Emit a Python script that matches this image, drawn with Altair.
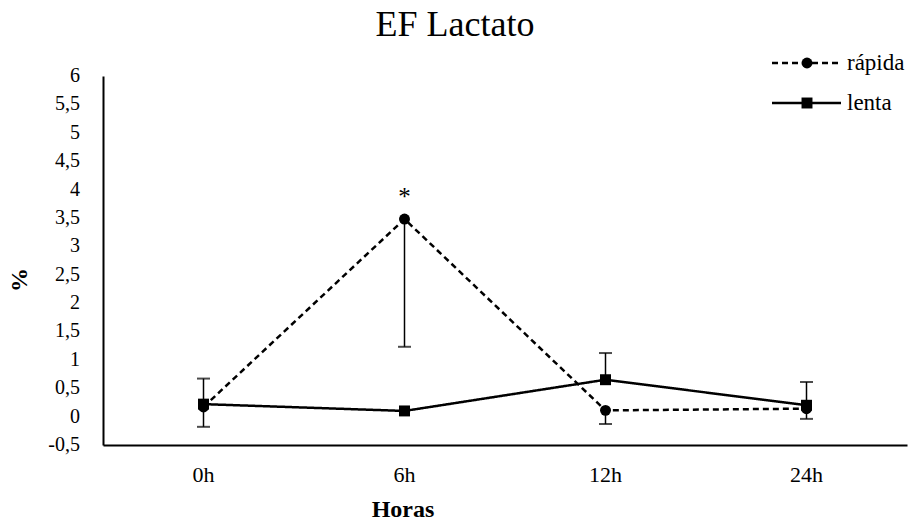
import altair as alt
import pandas as pd

# Sampling times and series
horas = ["0h", "6h", "12h", "24h"]
series = ["rápida", "lenta"]

# Mean values (%) per series
rapida_valor = [0.17, 3.48, 0.11, 0.14]
lenta_valor = [0.22, 0.10, 0.65, 0.20]

# Error bar lengths: rápida drawn downward, lenta drawn upward
rapida_err = [0.35, 2.25, 0.24, 0.18]
lenta_err = [0.45, 0.0, 0.47, 0.41]

# Significance marker per time point for rápida
rapida_sig = ["", "*", "", ""]

# Y tick positions and their labels (decimal comma)
y_ticks = [-0.5, 0, 0.5, 1, 1.5, 2, 2.5, 3, 3.5, 4, 4.5, 5, 5.5, 6]
y_tick_labels = ["-0,5", "0", "0,5", "1", "1,5", "2", "2,5", "3", "3,5", "4", "4,5", "5", "5,5", "6"]

FONT = "Liberation Serif"

rows = []
for h, v, e, s in zip(horas, rapida_valor, rapida_err, rapida_sig):
    rows.append(dict(hora=h, serie="rápida", valor=v, lo=v - e, hi=v, cap=v - e, err=e, sig=s))
for h, v, e in zip(horas, lenta_valor, lenta_err):
    rows.append(dict(hora=h, serie="lenta", valor=v, lo=v, hi=v + e, cap=v + e, err=e, sig=""))
df = pd.DataFrame(rows)

x_scale = alt.Scale(type="point", padding=0.5, domain=horas)
y_scale = alt.Scale(domain=[-0.5, 6], nice=False, zero=False)

axis_line = dict(labels=False, ticks=False, grid=False, title=None,
                 domainColor="black", domainWidth=2)

dash_scale = alt.Scale(domain=series, range=[[6, 4], [1, 0]])
shape_scale = alt.Scale(domain=series, range=["circle", "square"])

base = alt.Chart(df)

lines = base.mark_line(color="black", strokeWidth=2.5).encode(
    x=alt.X("hora:N", scale=x_scale, axis=alt.Axis(**axis_line)),
    y=alt.Y("valor:Q", scale=y_scale, axis=alt.Axis(**axis_line)),
    strokeDash=alt.StrokeDash("serie:N", scale=dash_scale, legend=None),
    detail="serie:N",
)

err_rules = base.transform_filter("datum.err > 0").mark_rule(color="black", strokeWidth=1.5).encode(
    x="hora:N",
    y="lo:Q",
    y2="hi:Q",
)

err_caps = base.transform_filter("datum.err > 0").mark_tick(
    color="black", size=13, thickness=2
).encode(
    x="hora:N",
    y="cap:Q",
)

points = base.mark_point(filled=True, color="black", opacity=1, size=120).encode(
    x="hora:N",
    y="valor:Q",
    shape=alt.Shape("serie:N", scale=shape_scale, legend=None),
)

stars = base.transform_filter("datum.sig != ''").mark_text(
    font=FONT, fontSize=25, color="black", dy=-22
).encode(
    x="hora:N",
    y="valor:Q",
    text="sig:N",
)

# Tick labels placed through the shared scales
y_labels = alt.Chart(pd.DataFrame({"v": y_ticks, "lab": y_tick_labels})).mark_text(
    font=FONT, fontSize=20, color="black", align="right", baseline="middle"
).encode(x=alt.value(-23), y="v:Q", text="lab:N")

x_labels = alt.Chart(pd.DataFrame({"hora": horas})).mark_text(
    font=FONT, fontSize=22, color="black", align="center", baseline="middle"
).encode(x="hora:N", y=alt.value(399), text="hora:N")

# Axis titles
x_title = alt.Chart(pd.DataFrame({"t": ["Horas"]})).mark_text(
    font=FONT, fontSize=24, fontWeight="bold", color="black", align="center", baseline="alphabetic"
).encode(x=alt.value(300), y=alt.value(441), text="t:N")

y_title = alt.Chart(pd.DataFrame({"t": ["%"]})).mark_text(
    font=FONT, fontSize=24, fontWeight="bold", color="black", align="center",
    baseline="middle", angle=270
).encode(x=alt.value(-83), y=alt.value(204), text="t:N")

# Chart title, centred over the whole figure
titulo = alt.Chart(pd.DataFrame({"t": ["EF Lactato"]})).mark_text(
    font=FONT, fontSize=36, color="black", align="center", baseline="alphabetic"
).encode(x=alt.value(352), y=alt.value(-40), text="t:N")

# Legend entries drawn beside the plot, top right
legend_layers = []
for nome, ypix in zip(series, [-13, 27]):
    leg = alt.Chart(pd.DataFrame({"serie": [nome]}))
    legend_layers.append(
        leg.mark_rule(color="black", strokeWidth=2.5).encode(
            x=alt.value(669),
            x2=alt.value(738),
            y=alt.value(ypix),
            strokeDash=alt.StrokeDash("serie:N", scale=dash_scale, legend=None),
        )
    )
    legend_layers.append(
        leg.mark_point(filled=True, color="black", opacity=1, size=120).encode(
            x=alt.value(704),
            y=alt.value(ypix),
            shape=alt.Shape("serie:N", scale=shape_scale, legend=None),
        )
    )
    legend_layers.append(
        leg.mark_text(
            font=FONT, fontSize=23, color="black", align="left", baseline="middle"
        ).encode(
            x=alt.value(744),
            y=alt.value(ypix),
            text="serie:N",
        )
    )

chart = (
    alt.layer(
        lines, err_rules, err_caps, points, stars,
        y_labels, x_labels, x_title, y_title, titulo, *legend_layers
    )
    .properties(
        width=804,
        height=369,
        autosize=alt.AutoSizeParams(type="none"),
        padding={"left": 103, "top": 76, "right": 3, "bottom": 78},
    )
    .configure_view(stroke=None)
)

chart.save("out.html", embed_options={"renderer": "svg", "actions": False})
